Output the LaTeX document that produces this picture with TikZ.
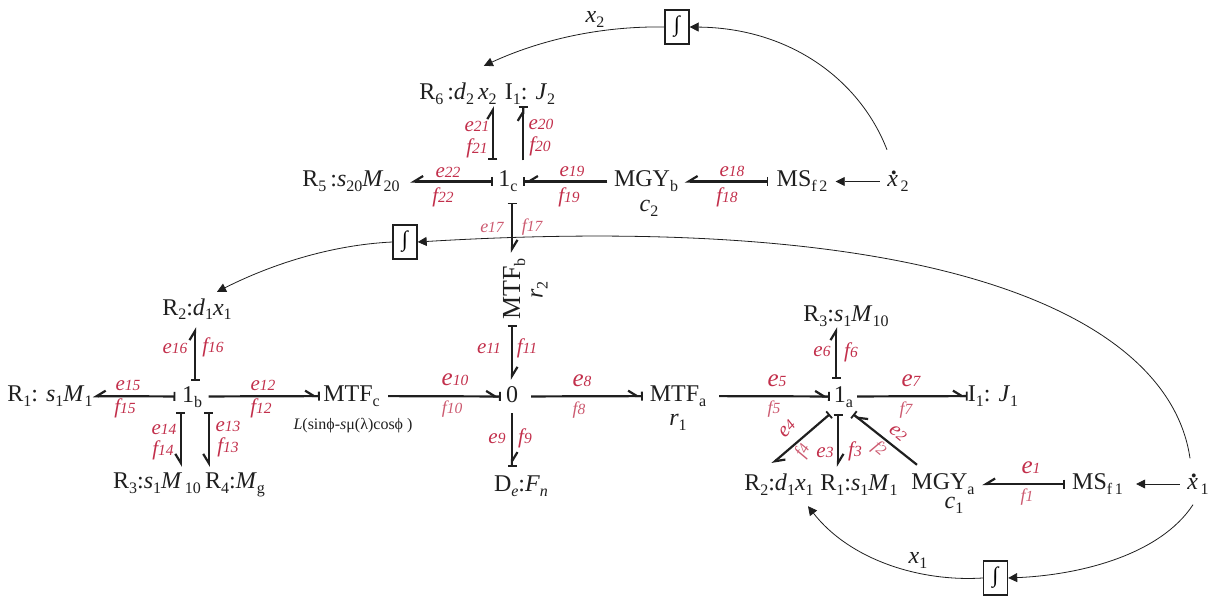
\documentclass[tikz,border=0pt]{standalone}
\usepackage{fontspec}
\setmainfont{Liberation Serif}
\usepackage{xcolor}
\usepackage{tikz}
\usetikzlibrary{arrows.meta}
\definecolor{labred}{HTML}{C22F4B}
\definecolor{labpale}{HTML}{CC5A70}
\definecolor{ink}{HTML}{1F1F1F}
\newcommand{\sbb}[1]{\raisebox{-5pt}{\fontsize{16}{16}\selectfont #1}}
\newcommand{\vr}[1]{\textit{#1}}
\newcommand{\dg}[1]{{\fontsize{15.5}{15.5}\selectfont #1}}
\newcommand{\xdot}{\makebox[0pt][l]{\kern3.6pt\raisebox{12pt}{\textbf{.}}}\vr{x}}
\tikzset{
  elem/.style={
    inner sep=0pt, text height=17pt, text depth=6pt, text=ink,
    font=\fontsize{24}{24}\selectfont
  },
  junc/.style={elem, minimum width=#1},
  lab/.style={inner sep=0pt, text=labred, font=\fontsize{21}{21}\selectfont\itshape},
  labbig/.style={lab, font=\fontsize{25}{25}\selectfont\itshape},
  labsmall/.style={inner sep=0pt, text=labpale, font=\fontsize{18}{18}\selectfont\itshape},
  bond/.style={line width=2.2pt, draw=ink},
  tailbond/.style={bond, {Bar[width=9pt,line width=1.8pt]}-{Straight Barb[#1,length=9pt,width=11pt]}},
  headbond/.style={bond, -{Straight Barb[#1,length=9pt,width=11pt]Bar[width=9pt,line width=1.8pt]}},
  signal/.style={line width=.8pt, draw=ink, -{Triangle[length=9pt,width=9pt]}},
  intbox/.style={draw=ink, line width=1.4pt, minimum width=24pt, minimum height=34pt,
    inner sep=0pt, font=\fontsize{22}{22}\selectfont},
}
\begin{document}
\begin{tikzpicture}[x=1pt,y=-1pt]
  \useasboundingbox (0,0) rectangle (1216,596);

  % top row
  \node[elem, inner ysep=0pt] (rsix) at (458,94.5) {R\sbb{6}\,:\vr{d}\sbb{2}\,\vr{x}\sbb{2}};
  \node[elem] (ione) at (530,94.5) {I\sbb{1}: \vr{J}\sbb{2}};
  \node[junc=118pt] (rfive) at (351,181.5) {R\sbb{5}\,:\vr{s}\sbb{20}\vr{M}\sbb{20}};
  \node[junc=30pt, minimum height=42pt] (jc) at (508,181.5) {1\sbb{c}};
  \node[junc=77pt] (mgyb) at (646,181.5) {MGY\sbb{b}};
  \node[elem] (ctwo) at (649,206) {\vr{c}\sbb{2}};
  \node[junc=67pt] (msftwo) at (802,181.5) {MS\sbb{f\,2}};
  \node[junc=36pt] (xdtwo) at (898,181.5) {\xdot\sbb{\,2}};
  \node[intbox] (intc) at (677,27) {∫};
  \node[elem] (xtwo) at (595,17) {\vr{x}\sbb{2}};

  % rotated transformer
  \node[elem, rotate=90, minimum width=72pt, font=\fontsize{26}{26}\selectfont] (mtfb) at (514.5,289) {MTF\sbb{b}};
  \node[elem, rotate=90] (rtwo) at (537,290) {\vr{r}\sbb{2}};
  \node[intbox] (intb) at (405,242) {∫};

  % middle row
  \node[junc=82pt] (rone) at (50,396) {R\sbb{1}: \vr{s}\sbb{1}\vr{M}\sbb{1}};
  \node[junc=33pt, minimum height=31pt] (jb) at (192,396.5) {1\sbb{b}};
  \node[junc=63pt] (mtfc) at (351.5,396) {MTF\sbb{c}};
  \node[elem, text=ink, font=\fontsize{16}{16}\selectfont] (lfun) at (353,424)
    {\vr{L}(sinϕ-\vr{s}μ(λ)cosϕ )};
  \node[junc=22pt, minimum height=33pt] (zero) at (512,396.5) {0};
  \node[junc=70pt] (mtfa) at (678,396) {MTF\sbb{a}};
  \node[elem] (rone2) at (678,420) {\vr{r}\sbb{1}};
  \node[junc=27pt, minimum height=35pt] (ja) at (843.5,396.5) {1\sbb{a}};
  \node[junc=50pt] (ionea) at (993,396) {I\sbb{1}: \vr{J}\sbb{1}};

  \node[elem, inner ysep=6pt] (rtwob) at (197,309.5) {R\sbb{2}:\vr{d}\sbb{1}\vr{x}\sbb{1}};
  \node[elem] (rthreea) at (846,315.5) {R\sbb{3}:\vr{s}\sbb{1}\vr{M}\sbb{10}};

  % bottom row
  \node[elem, inner ysep=4pt] (rthreeb) at (157,482.5) {R\sbb{3}:\vr{s}\sbb{1}\vr{M}\sbb{\,10}};
  \node[elem, inner ysep=4pt] (rfour) at (235,482.5) {R\sbb{4}:\vr{M}\sbb{g}};
  \node[elem, inner ysep=7pt] (dfn) at (521,485.5) {D\sbb{\vr{e}}:\vr{F}\sbb{\vr{n}}};
  \node[elem] (rtwoa) at (779,484.5) {R\sbb{2}:\vr{d}\sbb{1}\vr{x}\sbb{1}};
  \node[elem, inner ysep=6pt] (ronea) at (859,484.5) {R\sbb{1}:\vr{s}\sbb{1}\vr{M}\sbb{1}};
  \node[junc=78pt] (mgya) at (943,484) {MGY\sbb{a}};
  \node[elem] (cone) at (954,503) {\vr{c}\sbb{1}};
  \node[junc=65pt] (msfone) at (1097.5,484) {MS\sbb{f\,1}};
  \node[junc=36pt] (xdone) at (1198,484) {\xdot\sbb{\,1}};
  \node[intbox] (inta) at (995.5,578) {∫};
  \node[elem] (xone) at (918,558) {\vr{x}\sbb{1}};

  % bonds
  \draw[tailbond=right] (msfone) -- (mgya);
  \draw[headbond=right] ([xshift=-26pt,yshift=7.5pt]mgya.north) -- ([xshift=-4pt]ja.south east);
  \draw[tailbond=left]  ([xshift=-5.5pt]ja.south) -- ([xshift=-5.5pt]ja.south |- ronea.north);
  \draw[tailbond=left]  (ja.south west) -- ([xshift=-7pt,yshift=9pt]rtwoa.north);
  \draw[headbond=left, shorten <=6pt] (mtfa) -- (ja);
  \draw[tailbond=left]  ([xshift=-7.5pt]ja.north) -- ([xshift=-7.5pt]ja.north |- rthreea.south);
  \draw[headbond=left]  (ja) -- (ionea);
  \draw[headbond=left, shorten <=8pt] (zero) -- (mtfa);
  \draw[headbond=left]  (zero.south) -- (zero.south |- dfn.north);
  \draw[headbond=left, shorten <=5pt] (mtfc) -- (zero);
  \draw[tailbond=left]  (zero.north |- mtfb.west) -- (zero.north);
  \draw[headbond=left]  (jb) -- (mtfc);
  \draw[tailbond=right] (jb.south east) -- (jb.south east |- rfour.north);
  \draw[tailbond=right] ([xshift=5.5pt]jb.south west) -- ([xshift=5.5pt]jb.south west |- rthreeb.north);
  \draw[tailbond=right] (jb) -- (rone);
  \draw[tailbond=left]  ([xshift=3pt]jb.north) -- ([xshift=3pt]jb.north |- rtwob.south);
  \draw[tailbond=left]  ([xshift=4pt]jc.south) -- ([xshift=4pt]jc.south |- mtfb.east);
  \draw[tailbond=right] (msftwo) -- (mgyb);
  \draw[headbond=right] (mgyb) -- (jc);
  \draw[headbond=left]  (jc.north east) -- (jc.north east |- ione.south);
  \draw[tailbond=left]  (jc.north west) -- (jc.north west |- rsix.south);
  \draw[tailbond=right] (jc) -- (rfive);

  % signals
  \draw[signal] (xdtwo) -- (msftwo);
  \draw[signal, shorten >=6pt] (xdone) -- (msfone);
  \draw[signal] ([xshift=-11pt,yshift=20pt]xdtwo.north) .. controls (860,80) and (790,28) .. (intc.east);
  \draw[signal] (intc.west) .. controls (600,26) and (540,40) .. ([xshift=-13pt,yshift=17pt]rsix.north east);
  \draw[signal] ([xshift=-8pt,yshift=14pt]xdone.north) .. controls (1170,320) and (950,210) .. (intb.east);
  \draw[signal] (intb.west) .. controls (330,245) and (270,265) .. ([xshift=20pt]rtwob.north);
  \draw[signal] ([xshift=-5pt,yshift=-9pt]xdone.south) .. controls (1160,555) and (1080,575) .. (inta.east);
  \draw[signal] (inta.west) .. controls (920,582) and (850,560) .. ([xshift=29pt,yshift=-10pt]rtwoa.south);

  % labels
  \node[labbig] (e1) at (1031,468) {e\dg{1}};
  \node[labsmall] (f1) at (1027,497) {f\dg{1}};
  \node[lab, rotate=-40] (e2) at (898,433) {e\dg{2}};
  \node[labsmall, rotate=-40] (f2) at (879,449) {f\dg{2}};
  \node[lab] (e3) at (825,452) {e\dg{3}};
  \node[lab] (f3) at (855,451) {f\dg{3}};
  \node[lab, rotate=48] (e4) at (787,429) {e\dg{4}};
  \node[labsmall, rotate=60] (f4) at (803,451) {f\dg{4}};
  \node[labbig] (e5) at (777,381) {e\dg{5}};
  \node[labsmall] (f5) at (774,409) {f\dg{5}};
  \node[lab] (e6) at (822,351) {e\dg{6}};
  \node[lab] (f6) at (851,352) {f\dg{6}};
  \node[labbig] (e7) at (911,381) {e\dg{7}};
  \node[labsmall] (f7) at (906,410) {f\dg{7}};
  \node[labbig] (e8) at (582,381) {e\dg{8}};
  \node[labsmall] (f8) at (579,410) {f\dg{8}};
  \node[lab] (e9) at (497,438) {e\dg{9}};
  \node[lab] (f9) at (525,438) {f\dg{9}};
  \node[labbig] (e10) at (455,380) {e\dg{10}};
  \node[labsmall] (f10) at (452,409) {f\dg{10}};
  \node[lab] (e11) at (489,348) {e\dg{11}};
  \node[lab] (f11) at (527,348) {f\dg{11}};
  \node[lab] (e12) at (263,385) {e\dg{12}};
  \node[lab] (f12) at (261,408) {f\dg{12}};
  \node[lab] (e13) at (228,426) {e\dg{13}};
  \node[lab] (f13) at (228,447) {f\dg{13}};
  \node[lab] (e14) at (164,429) {e\dg{14}};
  \node[lab] (f14) at (163,450) {f\dg{14}};
  \node[lab] (e15) at (128,385) {e\dg{15}};
  \node[lab] (f15) at (125,408) {f\dg{15}};
  \node[lab] (e16) at (175,348) {e\dg{16}};
  \node[lab] (f16) at (213,347) {f\dg{16}};
  \node[labsmall] (e17) at (492,227) {e\dg{17}};
  \node[labsmall] (f17) at (532,227) {f\dg{17}};
  \node[lab] (e18) at (732,171) {e\dg{18}};
  \node[lab] (f18) at (727,197) {f\dg{18}};
  \node[lab] (e19) at (572,171) {e\dg{19}};
  \node[lab] (f19) at (569,197) {f\dg{19}};
  \node[lab] (e20) at (541,124) {e\dg{20}};
  \node[lab] (f20) at (540,146) {f\dg{20}};
  \node[lab] (e21) at (477,126) {e\dg{21}};
  \node[lab] (f21) at (477,148) {f\dg{21}};
  \node[lab] (e22) at (448,172) {e\dg{22}};
  \node[lab] (f22) at (443,197) {f\dg{22}};
\end{tikzpicture}
\end{document}
